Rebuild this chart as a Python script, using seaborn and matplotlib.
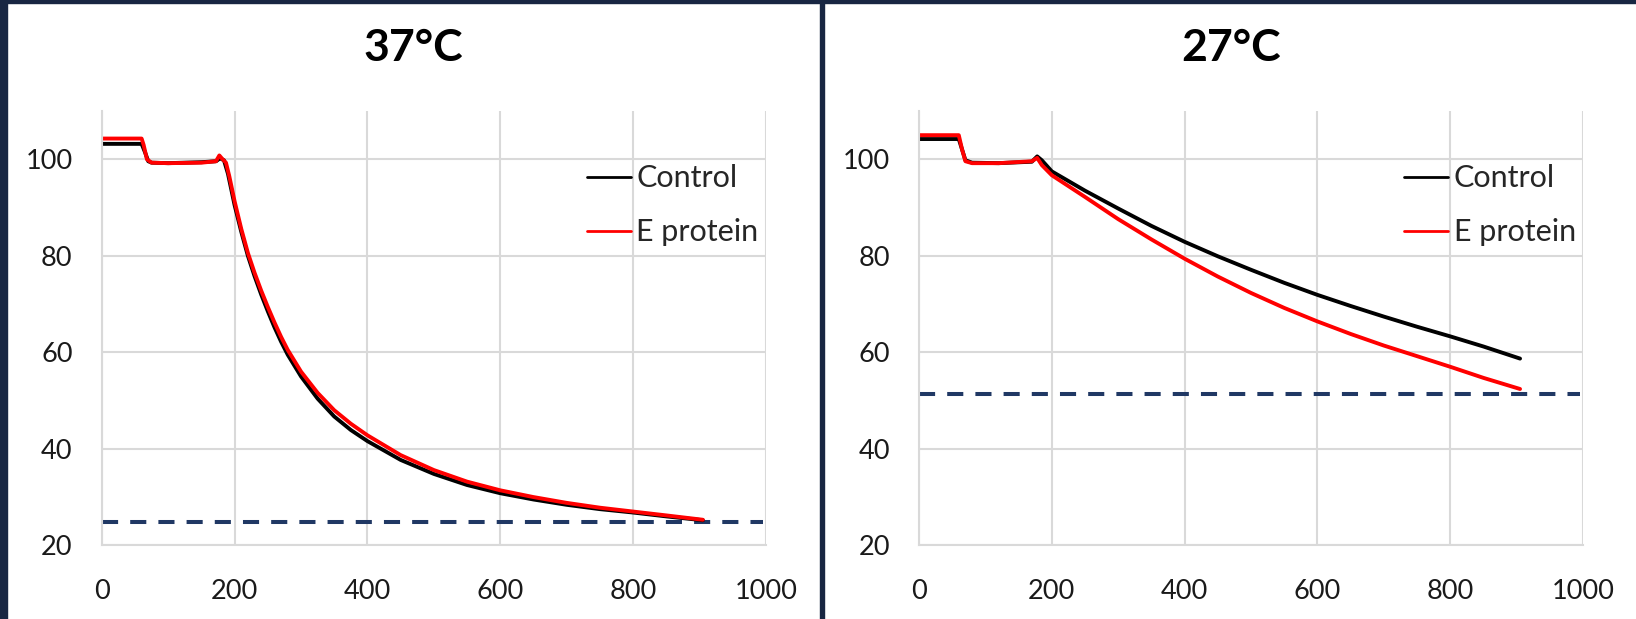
import seaborn as sns
import pandas as pd
import matplotlib.pyplot as plt
from matplotlib.patches import Rectangle

# ---- data ----
titles = ["37°C", "27°C"]
series_names = ["Control", "E protein"]

# 37 °C panel
t37_control = [0, 60, 65, 70, 75, 100, 150, 172, 178, 184, 190, 200, 210, 220, 230, 240, 250,
               260, 270, 280, 300, 325, 350, 375, 400, 450, 500, 550, 600, 650, 700, 750,
               800, 850, 905]
v37_control = [103.2, 103.2, 101.5, 99.6, 99.3, 99.2, 99.4, 99.6, 100.2, 99.8, 97.0, 90.5,
               85.0, 80.0, 75.8, 72.0, 68.5, 65.2, 62.2, 59.5, 55.0, 50.4, 46.7, 43.9, 41.6,
               37.7, 34.8, 32.5, 30.8, 29.5, 28.4, 27.5, 26.8, 26.0, 25.2]
t37_eprot = [0, 60, 63, 68, 75, 100, 150, 172, 177, 182, 187, 192, 200, 210, 220, 230, 240,
             250, 260, 270, 280, 300, 325, 350, 375, 400, 450, 500, 550, 600, 650, 700, 750,
             800, 850, 905]
v37_eprot = [104.3, 104.3, 103.0, 100.0, 99.3, 99.2, 99.3, 99.6, 100.8, 100.0, 99.3, 96.5,
             91.3, 85.6, 80.6, 76.5, 72.8, 69.4, 66.2, 63.2, 60.5, 56.0, 51.6, 48.0, 45.2,
             42.8, 38.7, 35.6, 33.2, 31.4, 30.0, 28.8, 27.8, 27.0, 26.2, 25.3]

# 27 °C panel
t27_control = [0, 60, 65, 70, 80, 120, 170, 178, 185, 200, 250, 300, 350, 400, 450, 500, 550,
               600, 650, 700, 750, 800, 850, 905]
v27_control = [104.2, 104.2, 102.0, 99.8, 99.3, 99.2, 99.5, 100.6, 99.8, 97.5, 93.5, 89.8,
               86.2, 82.9, 79.9, 77.1, 74.4, 71.9, 69.6, 67.4, 65.3, 63.3, 61.2, 58.7]
t27_eprot = [0, 60, 65, 70, 80, 120, 170, 178, 185, 200, 250, 300, 350, 400, 450, 500, 550,
             600, 650, 700, 750, 800, 850, 905]
v27_eprot = [105.0, 105.0, 102.0, 99.6, 99.2, 99.2, 99.6, 100.3, 98.8, 96.7, 92.2, 87.6,
             83.4, 79.4, 75.7, 72.3, 69.2, 66.4, 63.8, 61.4, 59.2, 57.0, 54.7, 52.4]

# dashed reference levels
thresholds = [24.8, 51.4]
thresh_end = 995

xticks = [0, 200, 400, 600, 800, 1000]
yticks = [20, 40, 60, 80, 100]

NAVY = "#182642"
DASH = "#203864"
GRID = "#d9d9d9"

sns.set_theme(style="whitegrid")
plt.rcParams["font.family"] = ["Lato", "DejaVu Sans"]

fig = plt.figure(figsize=(16.36, 6.19), dpi=100, facecolor="white")

# navy frame pieces (left strip, top strip, middle divider)
fig.add_artist(Rectangle((0, 0), 7 / 1636, 1, transform=fig.transFigure, color=NAVY, zorder=0))
fig.add_artist(Rectangle((0, 1 - 2.5 / 619), 1, 2.5 / 619, transform=fig.transFigure, color=NAVY, zorder=0))
fig.add_artist(Rectangle((820 / 1636, 0), 4 / 1636, 1, transform=fig.transFigure, color=NAVY, zorder=0))

panels = [
    (t37_control, v37_control, t37_eprot, v37_eprot),
    (t27_control, v27_control, t27_eprot, v27_eprot),
]
ax_left = [0.0622, 0.5617]
title_x = [0.2524, 0.7525]

for i, (tc, vc, te, ve) in enumerate(panels):
    ax = fig.add_axes([ax_left[i], 0.119, 0.406, 0.7016])
    df = pd.concat([
        pd.DataFrame({"t": tc, "value": vc, "series": series_names[0]}),
        pd.DataFrame({"t": te, "value": ve, "series": series_names[1]}),
    ])
    sns.lineplot(data=df, x="t", y="value", hue="series",
                 palette={"Control": "black", "E protein": "red"},
                 estimator=None, sort=False, linewidth=2.8, ax=ax, legend=False)
    ax.plot([0, thresh_end], [thresholds[i], thresholds[i]], color=DASH,
            linewidth=2.9, dashes=(4, 3), solid_capstyle="butt", zorder=1)

    ax.set_xlim(0, 1000)
    ax.set_ylim(20, 110)
    ax.set_xticks(xticks)
    ax.set_yticks(yticks)
    ax.set_xlabel("")
    ax.set_ylabel("")
    ax.grid(True, color=GRID, linewidth=1.5)
    for side in ["top", "right"]:
        ax.spines[side].set_visible(False)
    for side in ["left", "bottom"]:
        ax.spines[side].set_color(GRID)
        ax.spines[side].set_linewidth(1.5)
    ax.tick_params(axis="both", length=0, labelsize=19.5, colors="#1a1a1a")
    ax.tick_params(axis="y", pad=21)
    ax.tick_params(axis="x", pad=24)

    handles = [plt.Line2D([], [], color="black", linewidth=2),
               plt.Line2D([], [], color="red", linewidth=2)]
    ax.legend(handles, series_names, loc="upper left", bbox_to_anchor=(0.731, 0.877),
              frameon=False, fontsize=22, handlelength=1.43, handletextpad=0.18,
              labelspacing=0.85, borderpad=0, borderaxespad=0)

    fig.text(title_x[i], 0.922, titles[i], ha="center", va="center",
             fontsize=32, fontweight="bold", color="black")

fig.savefig("out.png", dpi=100, facecolor="white")
